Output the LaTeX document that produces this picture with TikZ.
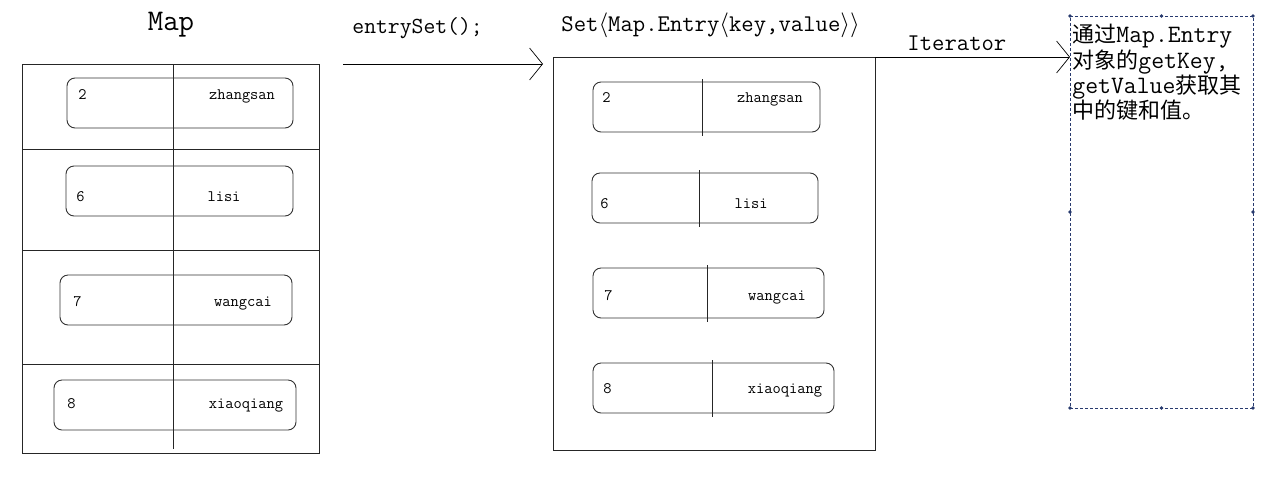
\documentclass[tikz,border=0pt]{standalone}
\usepackage{fontspec}
\newfontfamily\cjk{Noto Sans CJK SC}
\usetikzlibrary{arrows.meta}
\definecolor{selblue}{RGB}{40,58,110}
\begin{document}
\begin{tikzpicture}[x=1pt,y=-1pt,line width=0.9pt,
    box/.style={draw=black!85,inner sep=0pt,outer sep=0pt,anchor=north west},
    entry/.style={draw=black!80,rounded corners=8pt},
    keytext/.style={anchor=base west,inner sep=0pt,font=\ttfamily\fontsize{16}{16}\selectfont},
    valtext/.style={anchor=base,inner sep=0pt,font=\ttfamily\fontsize{16}{16}\selectfont},
    arr/.style={-{Straight Barb[length=13pt,width=32pt,line width=0.7pt]},line width=0.9pt},
    handle/.style={fill=selblue}]
    \useasboundingbox (0,0) rectangle (1265,480);
    %% titles
    \node[anchor=base,inner sep=0pt,font=\ttfamily\fontsize{30}{30}\selectfont] (maptitle) at (171,30) {Map};
    \node[anchor=base west,inner sep=0pt,font=\ttfamily\fontsize{23}{23}\selectfont] (eslabel) at (352,33) {entrySet();};
    \node[anchor=base west,inner sep=0pt,font=\ttfamily\fontsize{24}{24}\selectfont] (settitle) at (561,31) {Set$\langle$Map.Entry$\langle$key,value$\rangle\rangle$};
    \node[anchor=base west,inner sep=0pt,font=\ttfamily\fontsize{24}{24}\selectfont] (itlabel) at (907,50) {Iterator};
    %% Map
    \node[box,minimum width=297pt,minimum height=389pt] (mapbox) at (22,64) {};
    \foreach \y in {149,250,364}
        \draw[black!85] (22,\y) -- (319,\y);
    \draw[black!85] (173,64) -- (173,449);
    \foreach \k/\v/\xl/\xr/\yt/\kx/\vx/\ty in {2/zhangsan/67/293/78/78/242/99,6/lisi/66/293/166/76/224/201,7/wangcai/60/292/275/73/243/306,8/xiaoqiang/54/296/380/67/246/408}
    {
        \draw[entry] (\xl,\yt) rectangle (\xr,\yt+50);
        \node[keytext] (mk\k) at (\kx,\ty) {\k};
        \node[valtext] (mv\k) at (\vx,\ty) {\v};
    }
    %% Set
    \node[box,minimum width=322pt,minimum height=393pt] (setbox) at (553,57) {};
    \foreach \k/\v/\xl/\xr/\yt/\xd/\kx/\vx/\ty in {2/zhangsan/593/820/82/702/602/770/102,6/lisi/592/818/173/699/600/751/208,7/wangcai/593/824/268/707/604/777/300,8/xiaoqiang/593/834/363/712/603/785/393}
    {
        \draw[entry] (\xl,\yt) rectangle (\xr,\yt+50);
        \draw[black!85] (\xd,\yt-3) -- (\xd,\yt+54);
        \node[keytext] (sk\k) at (\kx,\ty) {\k};
        \node[valtext] (sv\k) at (\vx,\ty) {\v};
    }
    %% note
    \node[box,draw=selblue,dashed,dash pattern=on 3pt off 2pt,line width=0.7pt,minimum width=183pt,minimum height=392pt] (notebox) at (1070,16) {};
    \foreach \p in {north west,north,north east,east,south east,south,south west,west}
        \fill[handle] (notebox.\p) circle (1.8pt);
    \node[anchor=north west,inner sep=0pt,align=left,font=\ttfamily\fontsize{25}{20.5}\selectfont] (notetext) at (1072,24)
        {{\cjk\fontsize{22}{20.5}\selectfont 通过}Map.Entry\\{\cjk\fontsize{22}{20.5}\selectfont 对象的}getKey,\\getValue{\cjk\fontsize{22}{20.5}\selectfont 获取其}\\{\cjk\fontsize{22}{20.5}\selectfont 中的键和值。}};
    %% arrows
    \coordinate (esfrom) at (343,64);
    \coordinate (esto) at (543,64);
    \draw[arr] (esfrom) -- (esto);
    \draw[arr] (setbox.north east) -- (setbox.north east -| notebox.west);
\end{tikzpicture}
\end{document}
